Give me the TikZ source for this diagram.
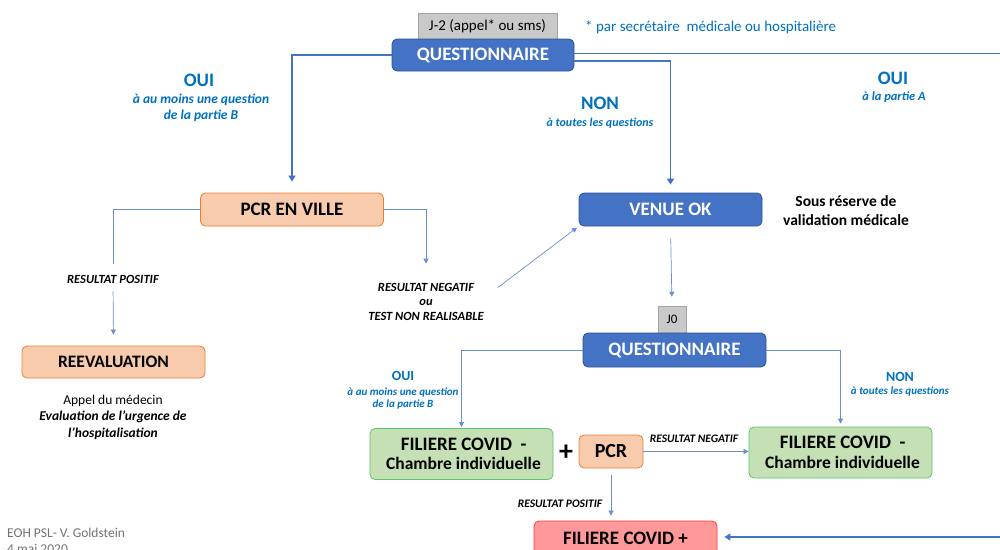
\documentclass[tikz,border=0pt]{standalone}
\usepackage{fontspec}
\setmainfont{Carlito}
\usetikzlibrary{arrows.meta}

\definecolor{qblue}{HTML}{4472C4}
\definecolor{qborder}{HTML}{2F528F}
\definecolor{linkblue}{HTML}{4472C4}
\definecolor{txtblue}{HTML}{0070C0}
\definecolor{pcrfill}{HTML}{F8CBAD}
\definecolor{pcrdraw}{HTML}{ED7D31}
\definecolor{covfill}{HTML}{C5E0B4}
\definecolor{covdraw}{HTML}{5CC46A}
\definecolor{redfill}{HTML}{FF9999}
\definecolor{reddraw}{HTML}{FF3B3B}
\definecolor{dayfill}{HTML}{C9C9C9}
\definecolor{daydraw}{HTML}{A5A5A5}
\newcommand\fsz[1]{\fontsize{#1}{#1}\selectfont}

\begin{document}
\begin{tikzpicture}[x=1pt,y=-1pt,
    box/.style={rounded corners=5pt, inner sep=0pt, align=center, minimum width=183pt, minimum height=33pt, line width=0.8pt},
    bluebox/.style={box, fill=qblue, draw=qborder, text=white, font=\bfseries\fsz{19}},
    pcrbox/.style={box, fill=pcrfill, draw=pcrdraw, font=\bfseries\fsz{19}},
    covbox/.style={box, fill=covfill, draw=covdraw, minimum height=51pt},
    redbox/.style={box, fill=redfill, draw=reddraw, minimum height=34pt, font=\bfseries\fsz{19}},
    daybox/.style={fill=dayfill, draw=daydraw, line width=0.5pt, inner sep=0pt, minimum height=27pt},
    bigtitle/.style={text=txtblue, font=\bfseries\fsz{19}},
    subtitle/.style={text=txtblue, font=\bfseries\itshape\fsz{13.5}, align=center, inner sep=0pt},
    result/.style={font=\bfseries\itshape\fsz{12.5}, align=center, inner sep=0pt},
    thickline/.style={draw=linkblue, line width=1.6pt},
    thinline/.style={draw=linkblue!80, line width=0.7pt},
    tip/.style={-{Triangle[width=7pt,length=6pt]}},
    smalltip/.style={-{Triangle[width=5pt,length=5pt]}}
  ]
  \clip (0,0) rectangle (1000,549);

  % J-2
  \node[daybox, minimum width=139pt, font=\fsz{15}] (jtwo) at (487.5,26.5) {J-2 (appel* ou sms)};
  \node[anchor=west, inner sep=0pt, text=txtblue, font=\fsz{15}] (note) at (585,27) {* par secrétaire\ \ médicale ou hospitalière};
  \node[bluebox, minimum width=182pt, minimum height=32pt] (quest) at (483,55) {QUESTIONNAIRE};

  \node[bigtitle] (ouiB) at (199,80) {OUI};
  \node[subtitle] (ouiBsub) at (201,108) {à au moins une question\\[2pt]de la partie B};
  \node[bigtitle] (nonT) at (600,103) {NON};
  \node[subtitle, font=\bfseries\itshape\fsz{12}] (nonTsub) at (600,123) {à toutes les questions};
  \node[bigtitle] (ouiA) at (893,78) {OUI};
  \node[subtitle, font=\bfseries\itshape\fsz{12.5}] (ouiAsub) at (894,97) {à la partie A};

  \node[pcrbox] (pcrv) at (292,209.5) {PCR EN VILLE};
  \node[bluebox] (venue) at (670.5,209.5) {VENUE OK};
  \node[font=\bfseries\fsz{15.5}, align=center, inner sep=0pt] (reserve) at (846,210.5) {Sous réserve de\\[3pt]validation médicale};

  \node[result] (posA) at (113,279) {RESULTAT POSITIF};
  \node[result] (negA) at (426,301.5) {RESULTAT NEGATIF\\[2pt]ou\\[2pt]TEST NON REALISABLE};
  \node[pcrbox, font=\bfseries\fsz{17.5}, minimum height=32pt] (reev) at (113.5,362) {REEVALUATION};
  \node[align=center, inner sep=0pt, font=\fsz{13.5}] (appel) at (113,417) {Appel du médecin\\[3pt]
    {\bfseries\itshape Evaluation de l’urgence de}\\[3pt]{\bfseries\itshape l’hospitalisation}};

  % J0
  \node[daybox, minimum width=28pt, font=\fsz{13}] (jzero) at (672,319.5) {J0};
  \node[bluebox, minimum height=34pt] (quest2) at (674.5,350) {QUESTIONNAIRE};

  \node[bigtitle, font=\bfseries\fsz{14}] (ouiC) at (403,376) {OUI};
  \node[subtitle, font=\bfseries\itshape\fsz{11}] (ouiCsub) at (403,398.5) {à au moins une question\\[1pt]de la partie B};
  \node[bigtitle, font=\bfseries\fsz{14}] (nonC) at (900,377) {NON};
  \node[subtitle, font=\bfseries\itshape\fsz{11}] (nonCsub) at (900,391) {à toutes les questions};

  \node[covbox] (filA) at (461.5,454) {{\bfseries\fsz{19} FILIERE COVID\ \ -}\\[6pt]{\bfseries\fsz{17.5} Chambre individuelle}};
  \node[inner sep=0pt, font=\bfseries\fsz{28}] (plus) at (566,453) {+};
  \node[pcrbox, minimum width=64pt, font=\bfseries\fsz{20}] (pcr) at (611,451.5) {PCR};
  \node[covbox] (filB) at (840.5,452.5) {{\bfseries\fsz{19} FILIERE COVID\ \ -}\\[6pt]{\bfseries\fsz{17.5} Chambre individuelle}};
  \node[result, font=\bfseries\itshape\fsz{11.5}] (negC) at (694,439) {RESULTAT NEGATIF};
  \node[result, font=\bfseries\itshape\fsz{11.5}] (posC) at (560,504) {RESULTAT POSITIF};
  \node[redbox] (covplus) at (625.5,538) {FILIERE COVID +};

  \node[anchor=west, inner sep=0pt, text=black!55, font=\fsz{13.5}, align=left] (author) at (7,541) {EOH PSL- V. Goldstein\\[2pt]4 mai 2020};

  \coordinate (outtop) at (1000,53.5);
  \coordinate (outbot) at (1000,537);

  % connectors
  \draw[thickline, tip, shorten >=11pt] (quest.west) -| (pcrv.north);
  \draw[thickline] ([yshift=1.5pt]quest.east) -- (outtop);
  \draw[thickline, tip, shorten >=8pt] ([yshift=-6pt]quest.east) -| (venue.north);
  \draw[thickline, tip, shorten >=7pt] (outbot) -- (outbot -| covplus.east);

  \draw[thinline, shorten >=11pt] (pcrv.west) -| (posA.north);
  \draw[thinline, smalltip, shorten <=8pt, shorten >=11pt] (posA.south) -- (reev.north);
  \draw[thinline, smalltip, shorten >=19pt] (pcrv.east) -| (negA.north);
  \draw[thinline, smalltip, shorten >=2pt] ([shift={(14,-14)}]negA.east) -- (venue.south west);
  \draw[thinline, smalltip, shorten <=12pt, shorten >=9pt] (venue.south) -- (jzero.north);

  \draw[thinline, smalltip, shorten >=1pt] (quest2.west) -| (filA.north);
  \draw[thinline, smalltip, shorten >=3pt] (quest2.east) -| (filB.north);
  \draw[thinline, smalltip] (pcr.east) -- (pcr.east -| filB.west);
  \draw[thinline, smalltip, shorten <=7pt, shorten >=5pt] (pcr.south) -- (pcr.south |- covplus.north);
\end{tikzpicture}
\end{document}
